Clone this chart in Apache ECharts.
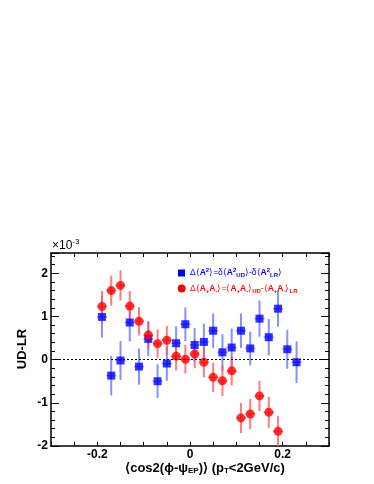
<!DOCTYPE html>
<html>
<head>
<meta charset="utf-8">
<script src="https://cdn.jsdelivr.net/npm/echarts@6/dist/echarts.min.js"></script>
<style>
html, body { margin: 0; padding: 0; background: #fff; }
#chart { width: 374px; height: 484px; }
</style>
</head>
<body>
<div id="chart"></div>
<script>
// cos2 bins (centres)
var xBlue = [-0.19, -0.17, -0.15, -0.13, -0.11, -0.09, -0.07, -0.05, -0.03, -0.01, 0.01,
	0.03, 0.05, 0.07, 0.09, 0.11, 0.13, 0.15, 0.17, 0.19, 0.21, 0.23];
var yBlue = [0.99, -0.37, -0.02, 0.86, -0.16, 0.48, -0.50, -0.09, 0.38, 0.82, 0.34,
	0.41, 0.67, 0.17, 0.28, 0.67, 0.26, 0.95, 0.52, 1.18, 0.24, -0.06];
var eBlue = [0.48, 0.46, 0.45, 0.44, 0.42, 0.40, 0.39, 0.40, 0.39, 0.39, 0.39,
	0.42, 0.40, 0.42, 0.44, 0.40, 0.39, 0.42, 0.42, 0.42, 0.45, 0.48];

var xRed = [-0.19, -0.17, -0.15, -0.13, -0.11, -0.09, -0.07, -0.05, -0.03, -0.01, 0.01,
	0.03, 0.05, 0.07, 0.09, 0.11, 0.13, 0.15, 0.17, 0.19];
var yRed = [1.23, 1.60, 1.72, 1.24, 0.89, 0.57, 0.37, 0.45, 0.08, 0.01, 0.13,
	-0.06, -0.41, -0.49, -0.26, -1.35, -1.26, -0.84, -1.22, -1.66];
var eRed = [0.36, 0.35, 0.35, 0.35, 0.33, 0.32, 0.33, 0.33, 0.33, 0.33, 0.33,
	0.35, 0.34, 0.35, 0.34, 0.35, 0.35, 0.35, 0.36, 0.35];

var xTickLabels = ['-0.2', '0.2'];
var xZeroLabel = '0';
var xMin = -0.3, xMax = 0.3;
var yMin = -2, yMax = 2.47;

function pts(xs, ys, es) {
	var out = [];
	for (var i = 0; i < xs.length; i++) {
		out.push(es ? [xs[i], ys[i], es[i]] : [xs[i], ys[i]]);
	}
	return out;
}

function errBars(color) {
	return function(params, api) {
		var x = api.value(0), y = api.value(1), e = api.value(2);
		var hi = api.coord([x, y + e]);
		var lo = api.coord([x, y - e]);
		var c = api.coord([x, y]);
		return {
			type : 'group',
			children : [ {
				type : 'line',
				shape : { x1 : hi[0], y1 : hi[1], x2 : lo[0], y2 : lo[1] },
				style : { stroke : color, lineWidth : 2 }
			}, {
				type : 'line',
				shape : { x1 : c[0] - 5, y1 : c[1], x2 : c[0] + 5, y2 : c[1] },
				style : { stroke : color, lineWidth : 1.5 }
			} ]
		};
	};
}

var font = 'Liberation Sans, Arial, sans-serif';
var chart = echarts.init(document.getElementById('chart'));

var xAxisBase = {
	type : 'value',
	min : xMin,
	max : xMax,
	interval : 0.05,
	splitLine : { show : false },
	axisLine : { onZero : false, lineStyle : { color : '#000', width : 1.5 } },
	axisTick : { inside : true, length : 4, lineStyle : { color : '#000' } },
	minorTick : { show : false }
};
var yAxisBase = {
	type : 'value',
	min : yMin,
	max : yMax,
	interval : 1,
	splitLine : { show : false },
	axisLine : { onZero : false, lineStyle : { color : '#000', width : 1.5 } },
	axisTick : { inside : true, length : 8, lineStyle : { color : '#000' } },
	minorTick : { show : true, splitNumber : 5, length : 4, lineStyle : { color : '#000' } }
};

var option = {
	animation : false,
	backgroundColor : '#fff',
	grid : { left : 51, right : 45, top : 253, bottom : 38 },
	xAxis : [ echarts.util.merge({
		position : 'bottom',
		axisLabel : {
			color : '#000', fontFamily : font, fontWeight : 'bold', fontSize : 12,
			lineHeight : 10, margin : 4,
			hideOverlap : false,
			formatter : function(v) {
				var s = String(Math.round(v * 100) / 100);
				return xTickLabels.indexOf(s) >= 0 ? s : '';
			}
		}
	}, xAxisBase, true), echarts.util.merge({
		position : 'top',
		axisLabel : { show : false }
	}, xAxisBase, true) ],
	yAxis : [ echarts.util.merge({
		position : 'left',
		axisLabel : {
			color : '#000', fontFamily : font, fontWeight : 'bold', fontSize : 12, margin : 3,
			formatter : function(v) {
				return Math.abs(v - Math.round(v)) < 1e-6 ? String(Math.round(v)) : '';
			}
		}
	}, yAxisBase, true), echarts.util.merge({
		position : 'right',
		axisLabel : { show : false }
	}, yAxisBase, true) ],
	series : [ {
		type : 'custom',
		name : 'blueErr',
		renderItem : errBars('rgba(90,110,255,0.75)'),
		data : pts(xBlue, yBlue, eBlue),
		encode : { x : 0, y : 1 },
		clip : true,
		z : 2
	}, {
		type : 'custom',
		name : 'redErr',
		renderItem : errBars('rgba(255,80,80,0.75)'),
		data : pts(xRed, yRed, eRed),
		encode : { x : 0, y : 1 },
		clip : true,
		z : 2
	}, {
		type : 'scatter',
		name : 'blue',
		symbol : 'rect',
		symbolSize : 8,
		itemStyle : { color : '#0000ff' },
		data : pts(xBlue, yBlue),
		z : 3,
		markLine : {
			silent : true,
			symbol : 'none',
			label : { show : false },
			lineStyle : { color : '#000', type : [ 2, 2 ], width : 1 },
			data : [ { yAxis : 0 } ]
		}
	}, {
		type : 'scatter',
		name : 'red',
		symbol : 'circle',
		symbolSize : 9,
		itemStyle : { color : '#ff0000' },
		data : pts(xRed, yRed),
		z : 4
	} ],
	graphic : [ {
		type : 'text',
		left : 52,
		top : 238,
		style : {
			text : '×10{s|-3}',
			fontFamily : font,
			fontSize : 12,
			fill : '#000',
			rich : { s : { fontSize : 8, fontFamily : font, padding : [ 0, 0, 8, 0 ] } }
		}
	}, {
		type : 'text',
		x : 22,
		y : 349,
		rotation : Math.PI / 2,
		style : {
			text : 'UD-LR',
			fontFamily : font,
			fontWeight : 'bold',
			fontSize : 13,
			fill : '#000',
			align : 'center',
			verticalAlign : 'middle'
		}
	}, {
		type : 'text',
		x : 205,
		y : 468,
		style : {
			text : '⟨cos2(ϕ-ψ{s|EP})⟩ (p{s|T}<2GeV/c)',
			fontFamily : font,
			fontWeight : 'bold',
			fontSize : 13,
			lineHeight : 13,
			fill : '#000',
			align : 'center',
			verticalAlign : 'middle',
			rich : { s : { fontSize : 8, fontWeight : 'bold', fontFamily : font, lineHeight : 13, verticalAlign : 'bottom' } }
		}
	}, {
		type : 'rect',
		shape : { x : 178, y : 269.5, width : 7, height : 7 },
		style : { fill : '#0000ff' }
	}, {
		type : 'text',
		x : 190,
		y : 273,
		style : {
			text : 'Δ⟨{b|A}{p|2}⟩=δ⟨{b|A}{p|2}{d|UD}⟩-δ⟨{b|A}{p|2}{d|LR}⟩',
			fontFamily : font,
			fontSize : 8.5,
			fill : '#0000ff',
			verticalAlign : 'middle',
			rich : {
				b : { fontWeight : 'bold', fontSize : 8.5, fontFamily : font },
				p : { fontSize : 6, fontWeight : 'bold', fontFamily : font, padding : [ 0, 0, 5, 0 ] },
				d : { fontSize : 6, fontWeight : 'bold', fontFamily : font, padding : [ 5, 0, 0, 0 ] }
			}
		}
	}, {
		type : 'circle',
		shape : { cx : 181.7, cy : 288.5, r : 4 },
		style : { fill : '#ff0000' }
	}, {
		type : 'text',
		x : 190,
		y : 289,
		style : {
			text : 'Δ⟨{b|A}{d|+}{b|A}{d|-}⟩=⟨{b|A}{d|+}{b|A}{d|-}⟩{d|UD}-⟨{b|A}{d|+}{b|A}{d|-}⟩{d|LR}',
			fontFamily : font,
			fontSize : 8.5,
			fill : '#ff0000',
			verticalAlign : 'middle',
			rich : {
				b : { fontWeight : 'bold', fontSize : 8.5, fontFamily : font },
				d : { fontSize : 6, fontWeight : 'bold', fontFamily : font, padding : [ 5, 0, 0, 0 ] }
			}
		}
	} ]
};
chart.setOption(option);

// the axis drops its "0" label here, so place it at the axis' own 0 position
var zeroPx = chart.convertToPixel({ xAxisIndex : 0 }, 0);
var axisBottom = chart.convertToPixel({ yAxisIndex : 0 }, yMin);
chart.setOption({
	graphic : [ {
		id : 'xZero',
		type : 'text',
		x : zeroPx,
		y : axisBottom + 4,
		style : {
			text : xZeroLabel,
			fontFamily : font,
			fontWeight : 'bold',
			fontSize : 12,
			lineHeight : 10,
			fill : '#000',
			align : 'center',
			verticalAlign : 'top'
		}
	} ]
});
</script>
</body>
</html>
